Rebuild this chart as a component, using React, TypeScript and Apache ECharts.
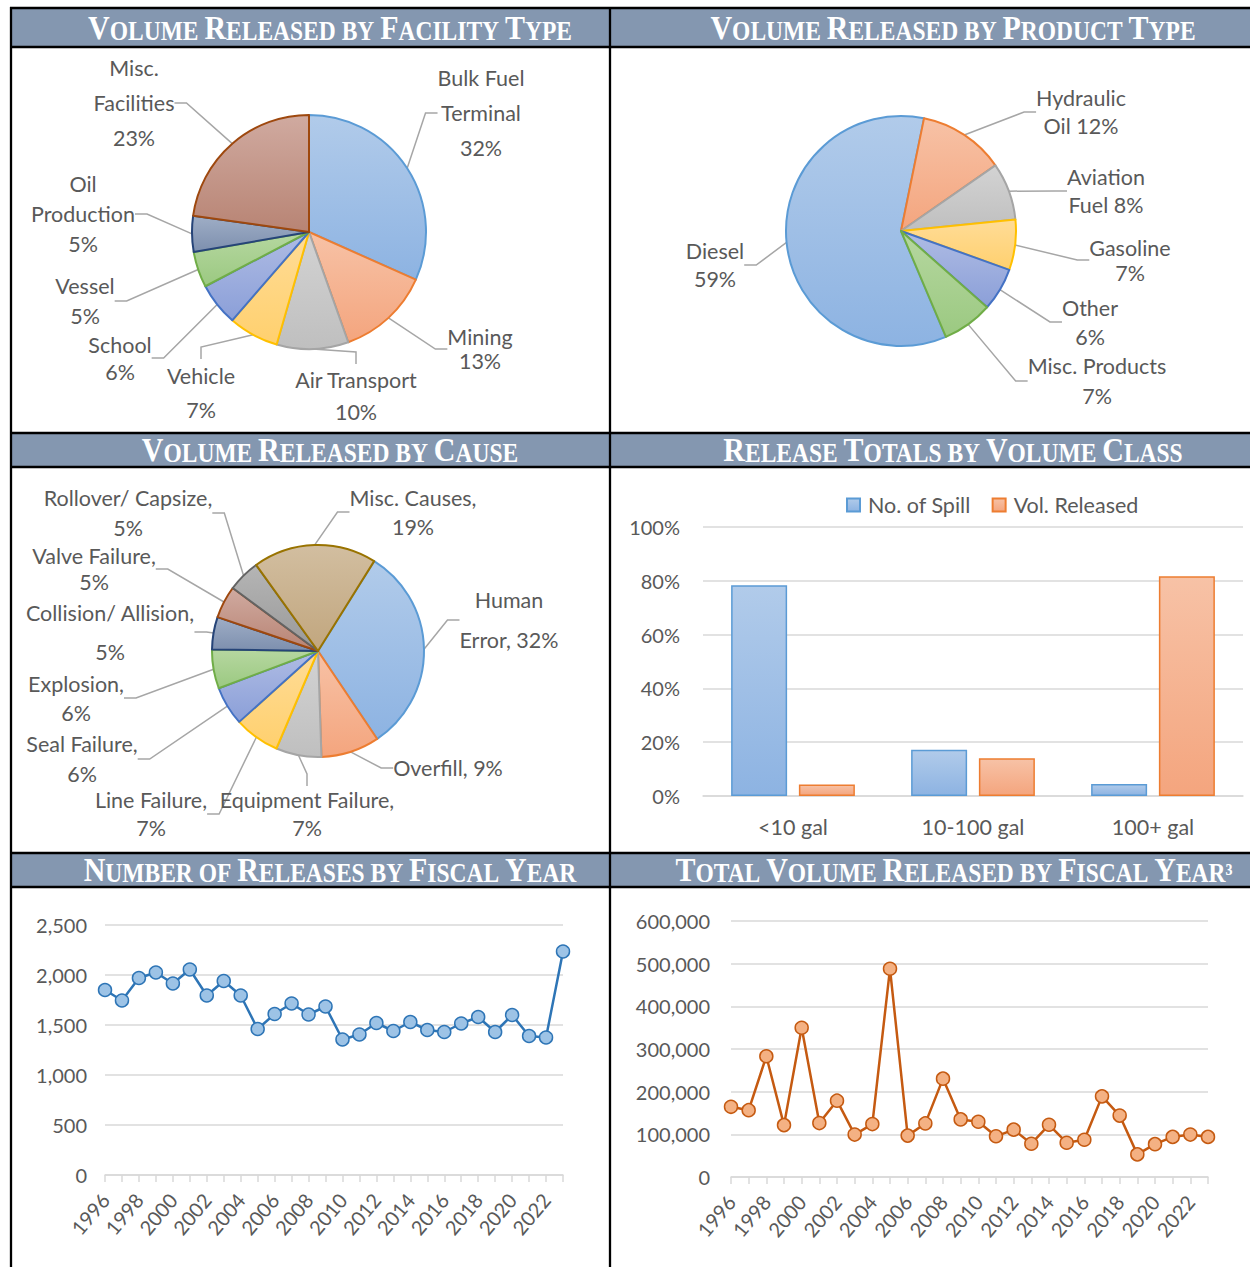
import React, { useEffect, useRef } from 'react';
import * as echarts from 'echarts';

// ---------------- DATA ----------------
const FACILITY_NAMES = ['Bulk Fuel Terminal', 'Mining', 'Air Transport', 'Vehicle', 'School', 'Vessel', 'Oil Production', 'Misc. Facilities'];
const FACILITY_LABELS = ['Bulk Fuel\nTerminal\n{p}', 'Mining\n{p}', 'Air Transport\n{p}', 'Vehicle\n{p}', 'School\n{p}', 'Vessel\n{p}', 'Oil\nProduction\n{p}', 'Misc.\nFacilities\n{p}'];
const FACILITY_VALUES = [32, 13, 10, 7, 6, 5, 5, 23];

const PRODUCT_NAMES = ['Diesel', 'Hydraulic Oil', 'Aviation Fuel', 'Gasoline', 'Other', 'Misc. Products'];
const PRODUCT_LABELS = ['Diesel\n{p}', 'Hydraulic\nOil {p}', 'Aviation\nFuel {p}', 'Gasoline\n{p}', 'Other\n{p}', 'Misc. Products\n{p}'];
const PRODUCT_VALUES = [59, 12, 8, 7, 6, 7];

const CAUSE_NAMES = ['Human Error', 'Overfill', 'Equipment Failure', 'Line Failure', 'Seal Failure', 'Explosion', 'Collision/ Allision', 'Valve Failure', 'Rollover/ Capsize', 'Misc. Causes'];
const CAUSE_LABELS = ['Human\nError, {p}', 'Overfill, {p}', 'Equipment Failure,\n{p}', 'Line Failure,\n{p}', 'Seal Failure,\n{p}', 'Explosion,\n{p}', 'Collision/ Allision,\n{p}', 'Valve Failure,\n{p}', 'Rollover/ Capsize,\n{p}', 'Misc. Causes,\n{p}'];
const CAUSE_VALUES = [32, 9, 7, 7, 6, 6, 5, 5, 5, 19];

const VOLUME_CLASSES = ['<10 gal', '10-100 gal', '100+ gal'];
const SPILL_COUNT_SHARE = [78.3, 17.2, 4.5];
const VOLUME_SHARE = [4.3, 14.0, 81.7];
const BAR_SERIES_NAMES = ['No. of Spill', 'Vol. Released'];

const YEARS = ['1996', '1997', '1998', '1999', '2000', '2001', '2002', '2003', '2004', '2005', '2006', '2007', '2008', '2009', '2010', '2011', '2012', '2013', '2014', '2015', '2016', '2017', '2018', '2019', '2020', '2021', '2022', '2023'];
const RELEASE_COUNTS = [1850, 1745, 1970, 2025, 1915, 2055, 1795, 1940, 1795, 1460, 1610, 1715, 1605, 1685, 1355, 1405, 1520, 1440, 1530, 1450, 1430, 1515, 1580, 1430, 1600, 1390, 1375, 2235];
const VOLUMES_RELEASED = [164500, 156600, 283000, 121600, 349800, 126400, 178900, 99400, 124000, 488000, 97000, 125600, 230500, 135000, 129600, 95400, 111000, 78000, 122400, 80300, 87400, 189000, 143900, 53000, 77000, 94000, 99400, 94000];

const COUNT_TICKS = { min: 0, max: 2500, interval: 500 };
const VOLUME_TICKS = { min: 0, max: 600000, interval: 100000 };
const SHARE_TICKS = { min: 0, max: 100, interval: 20 };

// ---------------- STYLE / LAYOUT ----------------
const THEME = [
  { line: '#5B9BD5', top: '#B1CBEA', bottom: '#8DB3E2' },
  { line: '#ED7D31', top: '#F7C2A6', bottom: '#F4A57E' },
  { line: '#A5A5A5', top: '#D3D3D3', bottom: '#BFBFBF' },
  { line: '#FFC000', top: '#FFDC97', bottom: '#FFD06E' },
  { line: '#4472C4', top: '#AFBCE4', bottom: '#8B9FD8' },
  { line: '#70AD47', top: '#B6D7A0', bottom: '#9BC981' },
  { line: '#264478', top: '#9FAEC6', bottom: '#7D8FAE' },
  { line: '#9E480E', top: '#D0AAA0', bottom: '#B88474' },
  { line: '#636363', top: '#B5B5B5', bottom: '#999999' },
  { line: '#997300', top: '#D2BEA0', bottom: '#C1A67E' },
];

const FACILITY_LABEL_POS = [[481, 113], [480, 349], [356, 396], [201, 393], [120, 358], [85, 301], [83, 214], [134, 103]];
const FACILITY_LINE_H = [35, 24, 32, 34, 27, 30, 30, 35];
const PRODUCT_LABEL_POS = [[715, 265], [1081, 112], [1106, 191], [1130, 260], [1090, 322], [1097, 381]];
const PRODUCT_LINE_H = [28, 28, 28, 25, 29, 30];
const CAUSE_LABEL_POS = [[509, 620], [448, 768], [307, 814], [151, 814], [82, 759], [76, 698], [110, 632], [94, 569], [128, 513], [413, 512]];
const CAUSE_LINE_H = [40, 30, 28, 28, 30, 29, 39, 26, 30, 29];

const FONT = 'Lato';
const TEXT_COLOR = '#595959';
const GRID_COLOR = '#D9D9D9';
const HEADER_FILL = '#8497B0';
const LABEL_SIZE = 21.5;

const grad = (c: any) =>
  new echarts.graphic.LinearGradient(0, 0, 0, 1, [
    { offset: 0, color: c.top },
    { offset: 1, color: c.bottom },
  ]);

function pieSeries(
  names: string[],
  values: number[],
  labels: string[],
  pos: number[][],
  lineH: number[],
  center: number[],
  radius: number,
  startAngle: number
) {
  return {
    type: 'pie',
    center,
    radius,
    startAngle,
    clockwise: true,
    avoidLabelOverlap: false,
    data: names.map((n, i) => ({
      name: n,
      value: values[i],
      itemStyle: { color: grad(THEME[i]), borderColor: THEME[i].line, borderWidth: 2 },
      label: { lineHeight: lineH[i] },
    })),
    label: {
      show: true,
      position: 'outside',
      fontFamily: FONT,
      fontSize: LABEL_SIZE,
      color: TEXT_COLOR,
      align: 'center',
      formatter: (p: any) => labels[p.dataIndex].replace('{p}', p.value + '%'),
    },
    labelLine: {
      show: true,
      length: 10,
      length2: 12,
      lineStyle: { color: '#A6A6A6', width: 1.5 },
    },
    labelLayout: (p: any) => ({
      x: pos[p.dataIndex][0],
      y: pos[p.dataIndex][1],
      align: 'center',
      verticalAlign: 'middle',
    }),
  };
}

function header(x: number, y: number, words: string[]) {
  const parts = words.map((w) => {
    if (w === 'BY' || w === 'OF') return `{b|${w}}`;
    const first = w[0];
    const rest = w.slice(1);
    return `{a|${first}}` + (rest ? `{b|${rest}}` : '');
  });
  return {
    type: 'text',
    x,
    y,
    scaleY: 1.14,
    z: 100,
    style: {
      text: parts.join('{b| }'),
      align: 'center',
      verticalAlign: 'middle',
      rich: {
        a: { fontFamily: 'Liberation Serif', fontWeight: 'bold', fontSize: 30, fill: '#FFFFFF', lineHeight: 32, verticalAlign: 'bottom' },
        b: { fontFamily: 'Liberation Serif', fontWeight: 'bold', fontSize: 23.5, fill: '#FFFFFF', lineHeight: 32, verticalAlign: 'bottom' },
      },
    },
  };
}

const hLine = (y: number) => ({
  type: 'line',
  z: 101,
  shape: { x1: 10, y1: y, x2: 1250, y2: y },
  style: { stroke: '#000', lineWidth: 2.3 },
});
const vLine = (x: number) => ({
  type: 'line',
  z: 101,
  shape: { x1: x, y1: 7, x2: x, y2: 1267 },
  style: { stroke: '#000', lineWidth: 2.3 },
});
const headerRect = (y: number, h: number) => ({
  type: 'rect',
  z: 99,
  shape: { x: 11, y, width: 1239, height: h },
  style: { fill: HEADER_FILL },
});

const valueAxisLabel = (margin: number) => ({
  fontFamily: FONT,
  fontSize: 20,
  color: TEXT_COLOR,
  margin,
  formatter: (v: number) => v.toLocaleString('en-US'),
});

const yearAxis = (gridIndex: number) => ({
  type: 'category',
  gridIndex,
  data: YEARS,
  boundaryGap: false,
  axisLine: { lineStyle: { color: GRID_COLOR, width: 1.5 } },
  axisTick: { show: true, interval: 0, length: 7, lineStyle: { color: GRID_COLOR, width: 1.5 } },
  axisLabel: { interval: 1, rotate: 50, fontFamily: FONT, fontSize: 20, color: TEXT_COLOR, margin: 21 },
});

export default function App() {
  const ref = useRef<HTMLDivElement>(null);
  useEffect(() => {
    if (!ref.current) return;
    const chart = echarts.init(ref.current, null, { renderer: 'svg' });
    const option: any = {
      animation: false,
      backgroundColor: '#FFFFFF',
      textStyle: { fontFamily: FONT },
      legend: {
        data: BAR_SERIES_NAMES,
        left: 841,
        top: 489,
        icon: 'rect',
        itemWidth: 13,
        itemHeight: 13,
        itemGap: 21,
        textStyle: { fontFamily: FONT, fontSize: LABEL_SIZE, color: TEXT_COLOR, padding: [0, 0, 0, 3] },
      },
      grid: [
        { left: 703, top: 527, width: 540, height: 269 },
        { left: 105, top: 925, width: 458, height: 250 },
        { left: 731, top: 921, width: 477, height: 256 },
      ],
      xAxis: [
        {
          type: 'category',
          gridIndex: 0,
          data: VOLUME_CLASSES,
          axisLine: { lineStyle: { color: GRID_COLOR, width: 1.5 } },
          axisTick: { show: false },
          axisLabel: { fontFamily: FONT, fontSize: LABEL_SIZE, color: TEXT_COLOR, margin: 20 },
        },
        yearAxis(1),
        yearAxis(2),
      ],
      yAxis: [
        {
          type: 'value',
          gridIndex: 0,
          ...SHARE_TICKS,
          axisLabel: { fontFamily: FONT, fontSize: 20, color: TEXT_COLOR, margin: 23, formatter: '{value}%' },
          splitLine: { lineStyle: { color: GRID_COLOR, width: 1.5 } },
          axisLine: { show: false },
        },
        {
          type: 'value',
          gridIndex: 1,
          ...COUNT_TICKS,
          axisLabel: valueAxisLabel(18),
          splitLine: { lineStyle: { color: GRID_COLOR, width: 1.5 } },
          axisLine: { show: false },
        },
        {
          type: 'value',
          gridIndex: 2,
          ...VOLUME_TICKS,
          axisLabel: valueAxisLabel(21),
          splitLine: { lineStyle: { color: GRID_COLOR, width: 1.5 } },
          axisLine: { show: false },
        },
      ],
      series: [
        pieSeries(FACILITY_NAMES, FACILITY_VALUES, FACILITY_LABELS, FACILITY_LABEL_POS, FACILITY_LINE_H, [309, 232], 117, 90),
        pieSeries(PRODUCT_NAMES, PRODUCT_VALUES, PRODUCT_LABELS, PRODUCT_LABEL_POS, PRODUCT_LINE_H, [901, 231], 115, -67),
        pieSeries(CAUSE_NAMES, CAUSE_VALUES, CAUSE_LABELS, CAUSE_LABEL_POS, CAUSE_LINE_H, [318, 651], 106, 58),
        {
          type: 'bar',
          name: BAR_SERIES_NAMES[0],
          xAxisIndex: 0,
          yAxisIndex: 0,
          data: SPILL_COUNT_SHARE,
          barWidth: 56,
          barGap: '21%',
          itemStyle: { color: grad(THEME[0]), borderColor: THEME[0].line, borderWidth: 1.5 },
        },
        {
          type: 'bar',
          name: BAR_SERIES_NAMES[1],
          xAxisIndex: 0,
          yAxisIndex: 0,
          data: VOLUME_SHARE,
          barWidth: 56,
          barGap: '21%',
          itemStyle: { color: grad(THEME[1]), borderColor: THEME[1].line, borderWidth: 1.5 },
        },
        {
          type: 'line',
          name: 'Number of Releases',
          xAxisIndex: 1,
          yAxisIndex: 1,
          data: RELEASE_COUNTS,
          symbol: 'circle',
          symbolSize: 13,
          showAllSymbol: true,
          lineStyle: { color: '#2E75B6', width: 2.5 },
          itemStyle: { color: '#9DC3E6', borderColor: '#2E75B6', borderWidth: 1.5 },
        },
        {
          type: 'line',
          name: 'Total Volume Released',
          xAxisIndex: 2,
          yAxisIndex: 2,
          data: VOLUMES_RELEASED,
          symbol: 'circle',
          symbolSize: 13,
          showAllSymbol: true,
          lineStyle: { color: '#C55A11', width: 2.5 },
          itemStyle: { color: '#F4B183', borderColor: '#C55A11', borderWidth: 1.5 },
        },
      ],
      graphic: [
        headerRect(9, 37),
        headerRect(434, 32),
        headerRect(854, 32),
        hLine(8),
        hLine(47),
        hLine(433),
        hLine(467),
        hLine(853),
        hLine(887),
        vLine(11),
        vLine(610),
        header(330, 26, ['VOLUME', 'RELEASED', 'BY', 'FACILITY', 'TYPE']),
        header(953, 26, ['VOLUME', 'RELEASED', 'BY', 'PRODUCT', 'TYPE']),
        header(330, 448, ['VOLUME', 'RELEASED', 'BY', 'CAUSE']),
        header(953, 448, ['RELEASE', 'TOTALS', 'BY', 'VOLUME', 'CLASS']),
        header(330, 868, ['NUMBER', 'OF', 'RELEASES', 'BY', 'FISCAL', 'YEAR']),
        header(954, 868, ['TOTAL', 'VOLUME', 'RELEASED', 'BY', 'FISCAL', 'YEAR³']),
      ],
    };
    chart.setOption(option);
    return () => chart.dispose();
  }, []);
  return (
    <div
      ref={ref}
      style={{ position: 'absolute', left: 0, top: 0, width: 1250, height: 1267, background: '#fff' }}
    />
  );
}
